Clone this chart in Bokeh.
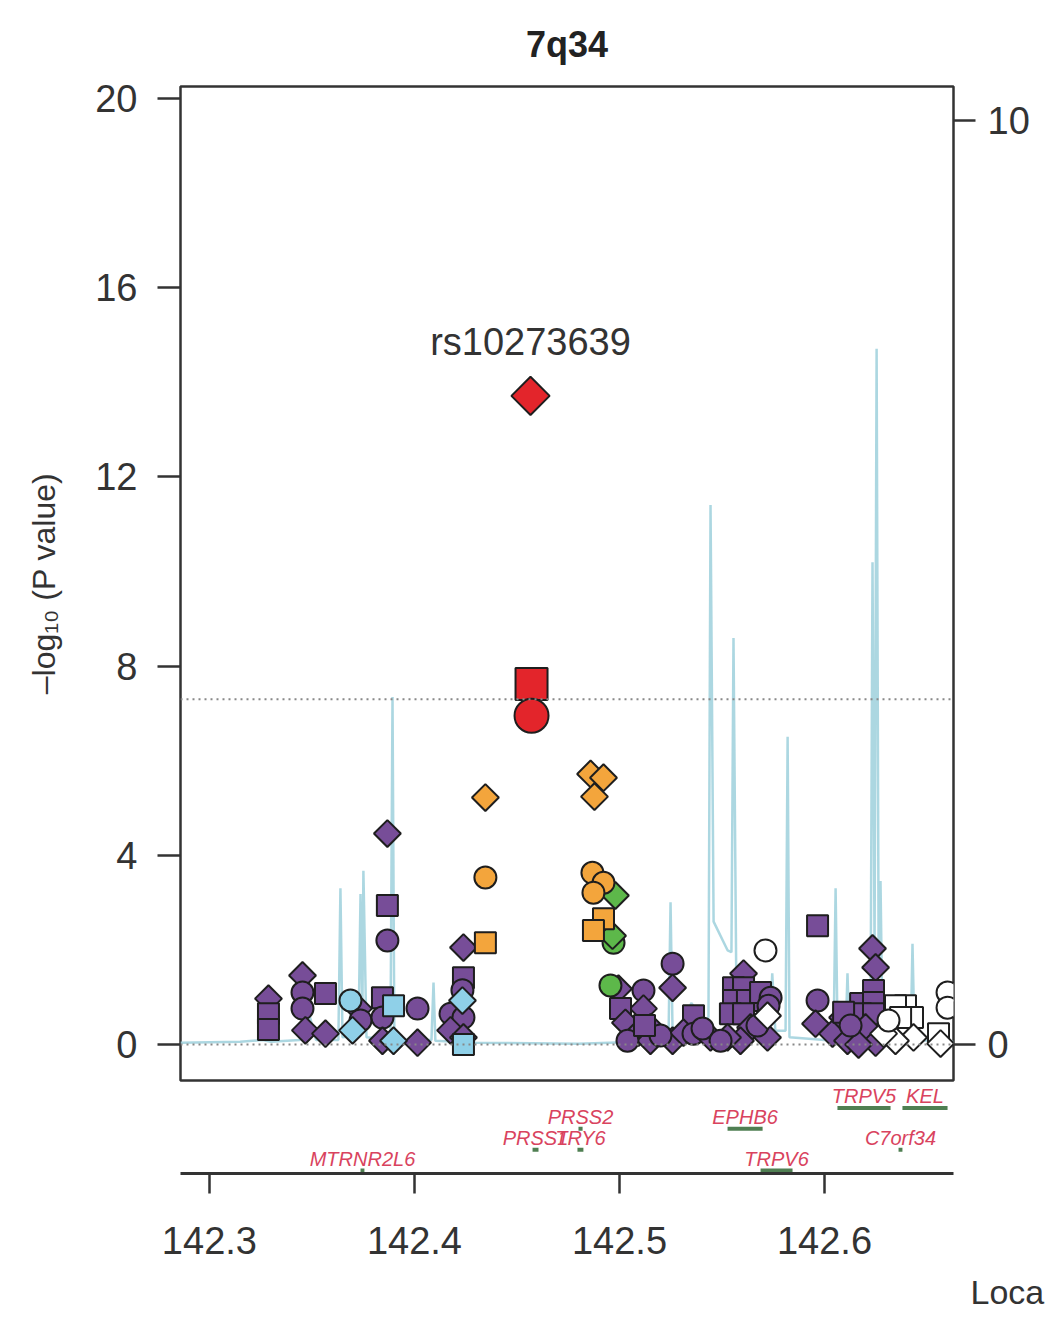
import math
import pandas as pd
from bokeh.plotting import figure
from bokeh.models import (Range1d, LinearAxis, FixedTicker, Span, ColumnDataSource,
                          PrintfTickFormatter, Title)
from bokeh.layouts import column
from bokeh.embed import file_html
from bokeh.resources import INLINE
from bokeh.core.properties import value

FONT = "Liberation Sans"

# ---------------- data ----------------
region_title = "7q34"
y_label = "\u2013log\u2081\u2080 (P value)"
x_label = "Loca"
lead_snp = "rs10273639"

# SNPs grouped by LD class; shape codes: c circle, s square, d diamond
purple_pos = [
    142.3288, 142.3288, 142.3288, 142.3454, 142.3454, 142.3454, 142.3468, 142.3566, 142.3566,
    142.3727, 142.3737, 142.3868, 142.3868, 142.3868, 142.3844, 142.3844, 142.3844, 142.4015,
    142.4015, 142.4239, 142.4239, 142.4234, 142.4176, 142.4239, 142.4176, 142.4239,
    142.4995, 142.5117, 142.5117, 142.5259, 142.5259, 142.5005, 142.5029, 142.5093, 142.5151,
    142.5151, 142.5039, 142.5361, 142.5259, 142.5312, 142.5361, 142.5444, 142.5200, 142.5405,
    142.5122,
    142.5605, 142.5556, 142.5605, 142.5556, 142.5624, 142.5688, 142.5737, 142.5541, 142.5605,
    142.5639, 142.5722, 142.5590, 142.5527, 142.5673, 142.5493, 142.5727,
    142.5966, 142.6234, 142.6249, 142.5966, 142.5956, 142.6039, 142.6088, 142.6112, 142.6239,
    142.6176, 142.6239, 142.6176, 142.6239, 142.6093, 142.6200, 142.6249, 142.6166, 142.6127,
]
purple_logp = [
    0.97, 0.65, 0.32, 1.46, 1.10, 0.76, 0.30, 1.08, 0.23,
    0.76, 0.51, 4.46, 2.94, 2.20, 0.99, 0.57, 0.08, 0.76,
    0.04, 2.05, 1.41, 1.15, 0.65, 0.57, 0.30, 0.15,
    1.18, 1.14, 0.76, 1.71, 1.20, 0.76, 0.46, 0.25, 0.36,
    0.08, 0.08, 0.61, 0.08, 0.25, 0.23, 0.15, 0.19, 0.34,
    0.40,
    1.50, 1.20, 1.20, 0.93, 0.93, 1.10, 0.99, 0.65, 0.65,
    0.36, 0.15, 0.08, 0.15, 0.40, 0.08, 0.82,
    2.51, 2.03, 1.63, 0.93, 0.44, 0.23, 0.57, 0.08, 1.14,
    0.87, 0.89, 0.65, 0.65, 0.68, 0.36, 0.04, 0.00, 0.40,
]
purple_shape = ("dssdccdsd" "dcdscscd" "cddscccdd"
                "dcdcdsddd" "dcsddcdcc" "s"
                "dssssscss" "ddddccc"
                "sddcdddds" "sssssdddc")

white_pos = [142.5712, 142.5722, 142.6395, 142.6346, 142.6429, 142.6371, 142.6434,
             142.6346, 142.6288, 142.6312, 142.6556, 142.6566, 142.6600, 142.6600]
white_logp = [1.99, 0.61, 0.82, 0.82, 0.57, 0.57, 0.15, 0.08, 0.23, 0.51, 0.23, 0.02, 1.10, 0.78]
white_shape = "cdssssdddcsdcc"

lightblue_pos = [142.3688, 142.3698, 142.3898, 142.3898, 142.4234, 142.4239]
lightblue_logp = [0.93, 0.30, 0.82, 0.08, 0.93, 0.00]
lightblue_shape = "cdsdds"

green_pos = [142.4980, 142.4971, 142.4966, 142.4956]
green_logp = [3.15, 2.15, 2.30, 1.25]
green_shape = "dcdc"

orange_pos = [142.4346, 142.4346, 142.4346, 142.4859, 142.4922, 142.4878, 142.4868,
              142.4922, 142.4873, 142.4922, 142.4873]
orange_logp = [5.22, 3.53, 2.15, 5.72, 5.64, 5.24, 3.63, 3.42, 3.21, 2.66, 2.41]
orange_shape = "dcsdddcccss"

red_pos = [142.4566, 142.4571, 142.4571]
red_logp = [13.71, 7.62, 6.95]
red_shape = "dsc"

# recombination rate (cM/Mb)
recomb_pos = [
    142.2859, 142.3150, 142.3260, 142.3300, 142.3440, 142.3490, 142.3520, 142.3629, 142.3639,
    142.3649, 142.3727, 142.3737, 142.3746, 142.3751, 142.3766, 142.3883, 142.3893, 142.3902,
    142.4083, 142.4093, 142.4102, 142.4300, 142.4800, 142.5100, 142.5239, 142.5249, 142.5259,
    142.5300, 142.5350, 142.5420, 142.5434, 142.5444, 142.5459, 142.5527, 142.5546, 142.5556,
    142.5571, 142.5650, 142.5737, 142.5745, 142.5760, 142.5810, 142.5820, 142.5829, 142.6000,
    142.6044, 142.6054, 142.6064, 142.6102, 142.6112, 142.6122, 142.6224, 142.6234, 142.6244,
    142.6254, 142.6264, 142.6273, 142.6283, 142.6420, 142.6429, 142.6439, 142.6629,
]
recomb_rate = [
    0.02, 0.03, 0.05, 0.03, 0.05, 0.30, 0.05, 0.05, 1.69,
    0.08, 0.10, 1.63, 0.30, 1.88, 0.08, 0.05, 3.76, 0.05,
    0.05, 0.67, 0.04, 0.02, 0.01, 0.03, 0.05, 1.54, 0.10,
    0.10, 0.45, 0.25, 0.30, 5.84, 1.33, 1.02, 1.00, 4.40,
    0.30, 0.15, 0.30, 0.77, 0.15, 0.15, 3.33, 0.08, 0.05,
    0.05, 1.69, 0.05, 0.05, 0.77, 0.05, 0.10, 5.22, 1.00,
    7.53, 0.80, 1.77, 0.10, 0.05, 1.09, 0.05, 0.03,
]

# genes
gene_names = ["TRPV5", "KEL", "PRSS2", "EPHB6", "PRSS1", "TRY6", "C7orf34", "MTRNR2L6", "TRPV6"]
gene_start = [142.6063, 142.6380, 142.4800, 142.5527, 142.4576, 142.4795, 142.6361, 142.3737, 142.5688]
gene_end = [142.6322, 142.6600, 142.4820, 142.5698, 142.4605, 142.4824, 142.6380, 142.3756, 142.5844]
gene_row = [1, 1, 2, 2, 3, 3, 3, 4, 4]

genome_wide = 7.3
y_ticks = [0, 4, 8, 12, 16, 20]
recomb_ticks = [0, 10]
x_ticks = [142.3, 142.4, 142.5, 142.6]

# ---------------- styling tables ----------------
groups = [  # drawing order
    ("#774d98", purple_pos, purple_logp, purple_shape, False),
    ("#ffffff", white_pos, white_logp, white_shape, False),
    ("#8fd0e8", lightblue_pos, lightblue_logp, lightblue_shape, False),
    ("#5db84a", green_pos, green_logp, green_shape, False),
    ("#f3a53c", orange_pos, orange_logp, orange_shape, False),
    ("#e3252b", red_pos, red_logp, red_shape, True),
]
marker_of = {"c": "circle", "s": "square", "d": "square"}
angle_of = {"c": 0.0, "s": 0.0, "d": math.pi / 4}
size_small = {"c": 22, "s": 21, "d": 19}
size_big = {"c": 34, "s": 32, "d": 27}

frames = []
for color, xs, ys, shapes, big in groups:
    shapes = list(shapes)
    frames.append(pd.DataFrame(dict(
        pos=xs, logp=ys, shape=shapes, color=[color] * len(xs),
        marker=[marker_of[s] for s in shapes],
        angle=[angle_of[s] for s in shapes],
        size=[(size_big if big else size_small)[s] for s in shapes],
    )))
df = pd.concat(frames, ignore_index=True)
src = ColumnDataSource(df)
lead = df.loc[df["logp"].idxmax()]

# ---------------- main panel ----------------
x_range = Range1d(142.2859, 142.6629)
p1 = figure(width=1045, height=1082, x_range=x_range, y_range=Range1d(-0.76, 20.25),
            output_backend="svg", toolbar_location=None, x_axis_location=None,
            min_border_left=180, min_border_right=92, min_border_top=85, min_border_bottom=2,
            title=region_title)
p1.title.align = "center"
p1.title.text_font = FONT
p1.title.text_font_size = "36px"
p1.title.text_font_style = "bold"
p1.title.text_color = "#222222"
p1.title.standoff = 43
p1.grid.visible = False
p1.outline_line_color = "#333333"
p1.outline_line_width = 2.5
p1.outline_line_alpha = 1.0

ya = p1.yaxis[0]
ya.ticker = FixedTicker(ticks=y_ticks)
ya.axis_label = y_label
ya.axis_label_text_font = FONT
ya.axis_label_text_font_size = "32px"
ya.axis_label_text_font_style = "normal"
ya.axis_label_text_color = "#333333"
ya.axis_label_standoff = 30
ya.major_label_text_font = FONT
ya.major_label_text_font_size = "38px"
ya.major_label_text_color = "#333333"
ya.major_label_standoff = 20
ya.major_tick_out = 23
ya.major_tick_in = 0
ya.major_tick_line_width = 2.5
ya.major_tick_line_color = "#333333"
ya.minor_tick_line_color = None
ya.axis_line_color = None

p1.extra_y_ranges = {"recomb": Range1d(-0.389, 10.368)}
ra = LinearAxis(y_range_name="recomb", ticker=FixedTicker(ticks=recomb_ticks))
ra.major_label_text_font = FONT
ra.major_label_text_font_size = "38px"
ra.major_label_text_color = "#333333"
ra.major_label_standoff = 12
ra.major_tick_out = 22
ra.major_tick_in = 0
ra.major_tick_line_width = 2.5
ra.major_tick_line_color = "#333333"
ra.minor_tick_line_color = None
ra.axis_line_color = None
p1.add_layout(ra, "right")

p1.line(recomb_pos, recomb_rate, y_range_name="recomb", line_color="#a3d3de",
        line_width=2.5, line_alpha=0.9)

for loc in (genome_wide, 0):
    p1.add_layout(Span(location=loc, dimension="width", line_color="#888888",
                       line_width=2, line_dash="2 4"))

p1.scatter(x="pos", y="logp", source=src, marker="marker", size="size", angle="angle",
           fill_color="color", line_color="#1e1e1e", line_width=2)

p1.text(x=[lead["pos"]], y=[lead["logp"]], text=[lead_snp], text_align="center",
        text_baseline="middle", y_offset=-54, text_font=value(FONT),
        text_font_size="38px", text_color="#333333")

# ---------------- gene track + x axis ----------------
p2 = figure(width=1045, height=243, x_range=x_range, y_range=Range1d(-4.14, 0.219),
            output_backend="svg", toolbar_location=None, y_axis_location=None,
            min_border_left=180, min_border_right=92, min_border_top=0, min_border_bottom=150)
p2.outline_line_color = None
p2.grid.visible = False

gy = [-r for r in gene_row]
gmid = [(a + b) / 2 for a, b in zip(gene_start, gene_end)]
p2.segment(x0=gene_start, y0=gy, x1=gene_end, y1=gy, line_color="#4f7f52", line_width=4)
p2.text(x=gmid, y=gy, text=gene_names, text_align="center", text_baseline="middle",
        y_offset=-12, text_font=value(FONT), text_font_size="20px", text_font_style="italic",
        text_color="#d9435e")

xa = p2.xaxis[0]
xa.ticker = FixedTicker(ticks=x_ticks)
xa.formatter = PrintfTickFormatter(format="%.1f")
xa.major_label_text_font = FONT
xa.major_label_text_font_size = "38px"
xa.major_label_text_color = "#333333"
xa.major_label_standoff = 33
xa.major_tick_out = 20
xa.major_tick_in = 0
xa.major_tick_line_width = 2.5
xa.major_tick_line_color = "#333333"
xa.minor_tick_line_color = None
xa.axis_line_width = 3
xa.axis_line_color = "#333333"

loc_title = Title(text=x_label, align="left", offset=790, text_font=FONT,
                  text_font_size="34px", text_font_style="normal", text_color="#333333",
                  standoff=29)
p2.add_layout(loc_title, "below")

layout = column(p1, p2, spacing=0)
open("out.html", "w").write(file_html(layout, INLINE))
